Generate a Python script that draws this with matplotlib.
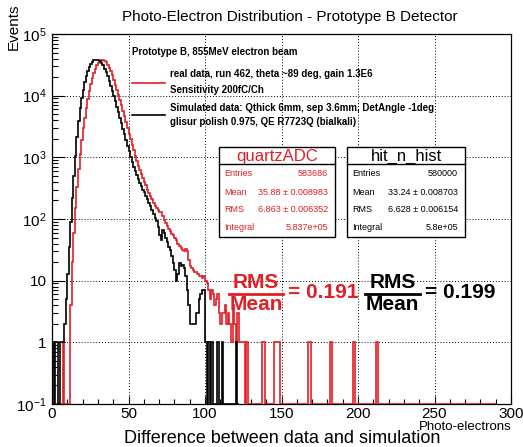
import numpy as np
import matplotlib
matplotlib.use("Agg")
import matplotlib.pyplot as plt
from matplotlib.patches import Rectangle
from matplotlib.lines import Line2D
from matplotlib.ticker import FixedLocator, FixedFormatter, MultipleLocator, LogLocator, NullFormatter

plt.rcParams['font.family'] = ['Liberation Sans', 'DejaVu Sans']
plt.rcParams['mathtext.fontset'] = 'custom'
plt.rcParams['mathtext.rm'] = 'Liberation Sans'
plt.rcParams['mathtext.it'] = 'Liberation Sans:italic'
plt.rcParams['mathtext.bf'] = 'Liberation Sans:bold'

# 1 p.e. wide bins starting at 0
data_counts = [
    0, 0, 0, 0, 0, 0, 0, 1, 0, 0, 0, 0,
    4, 20, 60, 150, 330, 650, 1150, 1900, 3000, 4400,
    6300, 8800, 12000, 15500, 19500, 23500, 27500, 31000, 34000, 36300,
    37800, 38300, 37000, 35000, 32000, 28500, 25000, 21500, 18000, 15000,
    12500, 10300, 8500, 7000, 5700, 4600, 3700, 3000, 2400, 1950,
    1600, 1300, 1050, 870, 730, 620, 530, 460, 400, 350,
    300, 265, 235, 210, 185, 165, 150, 140, 130, 128,
    112, 98, 86, 76, 70, 64, 58, 55, 50, 45,
    40, 36, 34, 32, 30, 33, 30, 22, 17, 16,
    15, 14, 14, 13, 12, 12, 11, 12, 10, 9,
    7, 5, 7, 6, 4, 5, 6, 3, 2, 3,
    3, 4, 2, 3, 2, 1, 4, 2, 1, 3,
    1, 1, 1, 1, 0,
]
data_single_bins = [127, 137, 138, 145, 146, 147, 148, 167, 168, 182, 197, 212]
data_nbins = 290

sim_counts = [
    1, 0, 1, 1, 0, 1, 1, 1, 2, 5,
    13, 35, 90, 220, 500, 1050, 2100, 3900, 6300, 9000,
    12500, 16500, 21000, 25500, 29500, 33000, 35500, 37200, 38200, 38500,
    38000, 36500, 34000, 31000, 27500, 24000, 20500, 17200, 14200, 11700,
    9800, 8100, 6600, 5400, 4400, 3600, 2900, 2350, 1900, 1550,
    1250, 1000, 830, 700, 600, 520, 450, 390, 340, 300,
    270, 240, 210, 185, 160, 140, 120, 105, 92, 75,
    55, 45, 66, 60, 50, 42, 35, 32, 25, 19,
    15, 10, 13, 19, 17, 18, 16, 12, 7, 4,
    2, 2, 2, 2, 3, 3, 5, 6, 7, 7,
    1, 0, 1, 0, 1, 0, 0, 0, 1, 0,
    0, 1, 0, 0, 0, 0, 0, 0, 0, 0,
    1, 0,
]

y_ticks = [0.1, 1, 10, 100, 1000, 10000, 100000]
y_labels = [r'$10^{-1}$', '1', '10', r'$10^{2}$', r'$10^{3}$', r'$10^{4}$', r'$10^{5}$']

stats_data = [("Entries", "583686"), ("Mean", "35.88 \u00b1 0.008983"),
              ("RMS", "6.863 \u00b1 0.006352"), ("Integral", "5.837e+05")]
stats_sim = [("Entries", "580000"), ("Mean", "33.24 \u00b1 0.008703"),
             ("RMS", "6.628 \u00b1 0.006154"), ("Integral", "5.8e+05")]
ratio_data = "0.191"
ratio_sim = "0.199"

RED = '#e31e24'
W, H = 523, 447
YMIN = 0.1


def fx(px):
    return px / W


def fy(py):
    return 1 - py / H


def full_hist(counts, nbins, singles=()):
    h = np.zeros(nbins)
    h[:len(counts)] = counts
    for b in singles:
        h[b] = 1
    return h


fig = plt.figure(figsize=(W / 100, H / 100), dpi=100)
ax = fig.add_axes([fx(52), fy(404), (511 - 52) / W, (404 - 34) / H])

h_data = full_hist(data_counts, data_nbins, data_single_bins)
h_sim = full_hist(sim_counts, len(sim_counts))

ax.stairs(np.where(h_data > 0, h_data, YMIN), np.arange(len(h_data) + 1),
          baseline=YMIN, color=RED, lw=1.2, zorder=3)
ax.stairs(np.where(h_sim > 0, h_sim, YMIN), np.arange(len(h_sim) + 1),
          baseline=YMIN, color='black', lw=1.2, zorder=4)

ax.set_yscale('log')
ax.set_xlim(0, 300)
ax.set_ylim(YMIN, 1e5)
ax.yaxis.set_major_locator(FixedLocator(y_ticks))
ax.yaxis.set_major_formatter(FixedFormatter(y_labels))
ax.yaxis.set_minor_locator(LogLocator(base=10, subs=np.arange(2, 10)))
ax.yaxis.set_minor_formatter(NullFormatter())
ax.xaxis.set_major_locator(MultipleLocator(50))
ax.xaxis.set_minor_locator(MultipleLocator(10))

ax.tick_params(which='both', direction='in', top=False, right=False, width=0.8, labelsize=11)
ax.tick_params(axis='y', which='major', length=9, pad=4)
ax.tick_params(axis='y', which='minor', length=4.5)
ax.tick_params(axis='x', which='major', length=6, pad=2)
ax.tick_params(axis='x', which='minor', length=3.5)
for s in ax.spines.values():
    s.set_linewidth(0.9)
ax.grid(True, which='major', ls=(0, (1, 2)), color='black', lw=0.7)
ax.set_axisbelow(True)

fig.text(fx(290), fy(17), "Photo-Electron Distribution - Prototype B Detector",
         ha='center', va='center', fontsize=11)
fig.text(fx(14), fy(3), "Events", rotation=90, ha='center', va='top', fontsize=11)
fig.text(fx(512), fy(427), "Photo-electrons", ha='right', va='center', fontsize=9.5)
fig.text(fx(282), fy(443), "Difference between data and simulation",
         ha='center', va='baseline', fontsize=13)

# legend block
fig.text(fx(132), fy(52), "Prototype B, 855MeV electron beam",
         ha='left', va='center', fontsize=7, fontweight='bold')
fig.add_artist(Line2D([fx(132), fx(165)], [fy(83), fy(83)], color=RED, lw=1.2))
fig.text(fx(170), fy(74), "real data, run 462, theta ~89 deg, gain 1.3E6",
         ha='left', va='center', fontsize=7, fontweight='bold')
fig.text(fx(170), fy(90), "Sensitivity 200fC/Ch",
         ha='left', va='center', fontsize=7, fontweight='bold')
fig.add_artist(Line2D([fx(132), fx(165)], [fy(115), fy(115)], color='black', lw=1.2))
fig.text(fx(170), fy(108), "Simulated data: Qthick 6mm, sep 3.6mm, DetAngle -1deg",
         ha='left', va='center', fontsize=7, fontweight='bold')
fig.text(fx(170), fy(122), "glisur polish 0.975, QE R7723Q (bialkali)",
         ha='left', va='center', fontsize=7, fontweight='bold')


def stats_box(x0, x1, y0, y1, title, rows, color):
    fig.add_artist(Rectangle((fx(x0), fy(y1)), fx(x1) - fx(x0), fy(y0) - fy(y1),
                             facecolor='white', edgecolor='black', lw=1.0, zorder=5))
    fig.add_artist(Line2D([fx(x0), fx(x1)], [fy(164), fy(164)], color='black', lw=1.0, zorder=6))
    fig.text(fx((x0 + x1) / 2), fy(156), title, ha='center', va='center',
             fontsize=12, color=color, zorder=7)
    for (label, val), yy in zip(rows, [174, 192, 210, 227]):
        fig.text(fx(x0 + 5), fy(yy), label, ha='left', va='center', fontsize=6.5, color=color, zorder=7)
        fig.text(fx(x1 - 7), fy(yy), val, ha='right', va='center', fontsize=6.5, color=color, zorder=7)


stats_box(219, 335, 147, 237, "quartzADC", stats_data, RED)
stats_box(347, 465, 147, 237, "hit_n_hist", stats_sim, 'black')


def ratio(xl, xr, value, color, xeq):
    xc = (xl + xr) / 2
    fig.text(fx(xc), fy(283), "RMS", ha='center', va='center', fontsize=15,
             fontweight='bold', color=color)
    fig.add_artist(Line2D([fx(xl), fx(xr)], [fy(294), fy(294)], color=color, lw=2))
    fig.text(fx(xc), fy(305), "Mean", ha='center', va='center', fontsize=15,
             fontweight='bold', color=color)
    fig.text(fx(xeq), fy(293), "= " + value, ha='left', va='center', fontsize=15,
             fontweight='bold', color=color)


ratio(229, 283, ratio_data, RED, 288)
ratio(365, 420, ratio_sim, 'black', 425)

fig.savefig("out.png", dpi=100)
